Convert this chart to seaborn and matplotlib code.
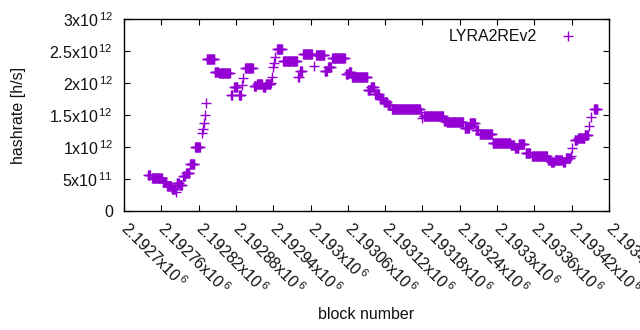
import numpy as np
import pandas as pd
import matplotlib
matplotlib.use("Agg")
import matplotlib.pyplot as plt
import seaborn as sns

# ---- data (plateaus of constant hashrate) ----
seg_first = [2192739, 2192745, 2192763, 2192769, 2192777, 2192784, 2192785, 2192790,
             2192795, 2192800, 2192806, 2192814, 2192825, 2192827, 2192829, 2192830,
             2192832, 2192833, 2192846, 2192853, 2192872, 2192877, 2192885, 2192890,
             2192891, 2192895, 2192909, 2192914, 2192924, 2192928, 2192936, 2192938,
             2192940, 2192941, 2192943, 2192946, 2192956, 2192980, 2192983, 2192988,
             2193006, 2193009, 2193023, 2193028, 2193035, 2193057, 2193062, 2193067,
             2193092, 2193097, 2193104, 2193112, 2193118, 2193125, 2193131, 2193178,
             2193179, 2193182, 2193215, 2193219, 2193248, 2193256, 2193266, 2193272,
             2193293, 2193322, 2193329, 2193335, 2193346, 2193356, 2193382, 2193387,
             2193393, 2193406, 2193411, 2193419, 2193420, 2193425, 2193430, 2193441,
             2193448, 2193451, 2193456]
seg_last = [2192742, 2192761, 2192768, 2192776, 2192782, 2192784, 2192788, 2192793,
            2192798, 2192805, 2192813, 2192822, 2192825, 2192827, 2192829, 2192830,
            2192832, 2192845, 2192851, 2192870, 2192874, 2192882, 2192888, 2192890,
            2192891, 2192907, 2192912, 2192922, 2192927, 2192935, 2192936, 2192938,
            2192940, 2192941, 2192943, 2192954, 2192978, 2192981, 2192986, 2193002,
            2193006, 2193022, 2193026, 2193033, 2193055, 2193060, 2193065, 2193091,
            2193096, 2193102, 2193110, 2193117, 2193123, 2193128, 2193176, 2193178,
            2193179, 2193213, 2193218, 2193245, 2193255, 2193264, 2193269, 2193292,
            2193321, 2193327, 2193334, 2193343, 2193353, 2193380, 2193385, 2193391,
            2193404, 2193409, 2193417, 2193419, 2193420, 2193428, 2193440, 2193446,
            2193448, 2193451, 2193461]
seg_value_e12 = [0.56, 0.52, 0.45, 0.39, 0.34, 0.30, 0.44, 0.41,
                 0.54, 0.59, 0.73, 1.00, 1.22, 1.28, 1.37, 1.50,
                 1.69, 2.37, 2.17, 2.16, 1.81, 1.93, 1.81, 1.97,
                 2.08, 2.23, 1.95, 1.98, 1.94, 1.98, 2.00, 2.10,
                 2.25, 2.32, 2.40, 2.53, 2.34, 2.10, 2.19, 2.45,
                 2.27, 2.43, 2.18, 2.25, 2.39, 2.14, 2.17, 2.09,
                 1.89, 1.93, 1.83, 1.75, 1.70, 1.65, 1.59, 1.55,
                 1.45, 1.48, 1.41, 1.39, 1.29, 1.37, 1.27, 1.21,
                 1.06, 1.03, 0.99, 1.04, 0.90, 0.86, 0.80, 0.76,
                 0.79, 0.76, 0.83, 0.86, 0.99, 1.11, 1.14, 1.19,
                 1.33, 1.47, 1.60]

series_name = "LYRA2REv2"
xtick_values = list(range(2192700, 2193481, 60))
ytick_values = [0, 0.5e12, 1.0e12, 1.5e12, 2.0e12, 2.5e12, 3.0e12]
ytick_labels = ["0", r"5x10$^{\,\mathrm{11}}$", r"1x10$^{\,\mathrm{12}}$",
                r"1.5x10$^{\,\mathrm{12}}$", r"2x10$^{\,\mathrm{12}}$",
                r"2.5x10$^{\,\mathrm{12}}$", r"3x10$^{\,\mathrm{12}}$"]

blocks, rates = [], []
for a, b, v in zip(seg_first, seg_last, seg_value_e12):
    for blk in range(a, b + 1):
        blocks.append(blk)
        rates.append(v * 1e12)
df = pd.DataFrame({"block": blocks, "hashrate": rates})

sns.set_theme(style="ticks")
plt.rcParams["font.family"] = ["Liberation Sans", "DejaVu Sans"]
plt.rcParams["mathtext.fontset"] = "custom"
plt.rcParams["mathtext.rm"] = "Liberation Sans"
plt.rcParams["mathtext.it"] = "Liberation Sans:italic"
plt.rcParams["mathtext.bf"] = "Liberation Sans:bold"

FS = 11.5
TXT = "#111111"

fig = plt.figure(figsize=(6.4, 3.3), dpi=100)
ax = fig.add_axes([124 / 640, 1 - 211 / 330, 485 / 640, 192 / 330])

sns.scatterplot(data=df, x="block", y="hashrate", marker="+", s=48,
                color="#9400d3", linewidth=1.0, ax=ax, label=series_name,
                edgecolor=None)

ax.set_xlim(2192700, 2193480)
ax.set_ylim(0, 3e12)
ax.set_xticks(xtick_values)
ax.set_xticklabels([f"{v/1e6:g}x10$^{{\\,\\mathrm{{6}}}}$" for v in xtick_values],
                   rotation=-45, ha="left", va="center", rotation_mode="anchor",
                   fontsize=FS, color=TXT)
ax.set_yticks(ytick_values)
ax.set_yticklabels(ytick_labels, fontsize=FS, color=TXT)
ax.tick_params(direction="in", length=4, width=0.8, top=True, right=True,
               color="black")
ax.tick_params(axis="y", pad=8)
ax.tick_params(axis="x", pad=10)
for sp in ax.spines.values():
    sp.set_visible(True)
    sp.set_color("black")
    sp.set_linewidth(1.0)

ax.set_xlabel("block number", fontsize=FS, color=TXT)
ax.set_ylabel("hashrate [h/s]", fontsize=FS, color=TXT)
ax.xaxis.set_label_coords(0.5, -96 / 192)
ax.yaxis.set_label_coords(-98 / 485, 0.5)

leg = ax.legend(loc="upper right", frameon=False, markerfirst=False,
                fontsize=FS, handletextpad=1.0, borderaxespad=0.2,
                bbox_to_anchor=(1 - 15 / 485, 1.0))
for t in leg.get_texts():
    t.set_color(TXT)

fig.savefig("out.png", dpi=100)
